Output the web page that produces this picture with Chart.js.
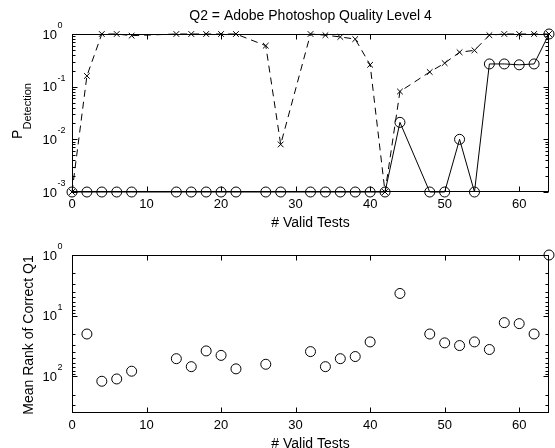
<!DOCTYPE html>
<html>
<head>
<meta charset="utf-8">
<script src="https://cdn.jsdelivr.net/npm/chart.js@4/dist/chart.umd.min.js"></script>
<style>
html,body{margin:0;padding:0;background:#fff;width:555px;height:448px;overflow:hidden;}
.wrap{position:absolute;left:0;width:555px;}
</style>
</head>
<body>
<div class="wrap" style="top:0;height:232px"><canvas id="c1"></canvas></div>
<div class="wrap" style="top:232px;height:216px"><canvas id="c2"></canvas></div>
<script>
// ---- data ----
const chartTitle = 'Q2 = Adobe Photoshop Quality Level 4';
const xAxisTitle = '# Valid Tests';
const rankAxisTitle = 'Mean Rank of Correct Q1';

const testCounts = [0, 2, 4, 6, 8, 14, 16, 18, 20, 22, 26, 28, 32, 34, 36, 38, 40, 42, 44, 48, 50, 52, 54, 56, 58, 60, 62, 64];
// dashed series with x markers
const pDetectCross = [0.001, 0.16, 1, 1, 0.93, 1, 1, 1, 1, 1, 0.6, 0.008, 1, 0.95, 0.88, 0.8, 0.26, 0.001, 0.081, 0.19, 0.28, 0.45, 0.49, 0.95, 1, 1, 1, 1];
// solid series with circle markers
const pDetectCircle = [0.001, 0.001, 0.001, 0.001, 0.001, 0.001, 0.001, 0.001, 0.001, 0.001, 0.001, 0.001, 0.001, 0.001, 0.001, 0.001, 0.001, 0.001, 0.021, 0.001, 0.001, 0.01, 0.001, 0.27, 0.27, 0.26, 0.27, 1];
// mean rank of correct Q1 (null = not shown)
const meanRank = [null, 20, 120, 110, 82, 51, 69, 38, 45, 75, 63, null, 39, 69, 51, 47, 27, null, 4.3, 20, 28, 31, 27, 36, 13, 13.5, 20, 1];

const xTickValues = [0, 10, 20, 30, 40, 50, 60];
const pTickValues = [1, 0.1, 0.01, 0.001];
const pTickExponents = ['0', '-1', '-2', '-3'];
const rankTickValues = [1, 10, 100];
const rankTickExponents = ['0', '1', '2'];
const pRange = [0.001, 1];
const rankRange = [1, 400];
const xRange = [0, 64];

// ---- drawing ----
const FONT = '"Liberation Sans", Arial, Helvetica, sans-serif';

function minorValues(min, max) {
  const out = [];
  for (let d = Math.floor(Math.log10(min)); d <= Math.ceil(Math.log10(max)); d++) {
    for (let k = 2; k <= 9; k++) {
      const v = k * Math.pow(10, d);
      if (v > min * 1.0001 && v < max * 0.9999) out.push(v);
    }
  }
  return out;
}

function framePlugin(opt) {
  return {
    id: 'frame',
    afterDatasetsDraw(chart) {
      const ctx = chart.ctx, a = chart.chartArea;
      const xs = chart.scales.x, ys = chart.scales.y;
      const L = Math.round(a.left) + 0.5, R = Math.round(a.right) - 0.5;
      const T = Math.round(a.top) + 0.5, B = Math.round(a.bottom) - 0.5;
      ctx.save();
      ctx.setLineDash([]);
      ctx.strokeStyle = '#000';
      ctx.lineWidth = 1;
      ctx.strokeRect(L, T, R - L, B - T);
      ctx.beginPath();
      // x ticks (inside, top and bottom)
      xTickValues.forEach(v => {
        const px = Math.round(xs.getPixelForValue(v)) + 0.5;
        ctx.moveTo(px, B); ctx.lineTo(px, B - 5);
        ctx.moveTo(px, T); ctx.lineTo(px, T + 5);
      });
      // y major ticks
      opt.yTicks.forEach(v => {
        const py = Math.round(ys.getPixelForValue(v)) + 0.5;
        ctx.moveTo(L, py); ctx.lineTo(L + 5, py);
        ctx.moveTo(R, py); ctx.lineTo(R - 5, py);
      });
      // y minor ticks
      minorValues(opt.yRange[0], opt.yRange[1]).forEach(v => {
        const py = Math.round(ys.getPixelForValue(v)) + 0.5;
        ctx.moveTo(L, py); ctx.lineTo(L + 3, py);
        ctx.moveTo(R, py); ctx.lineTo(R - 3, py);
      });
      ctx.stroke();

      ctx.fillStyle = '#000';
      // x tick labels
      ctx.font = '13px ' + FONT;
      ctx.textAlign = 'center';
      ctx.textBaseline = 'alphabetic';
      xTickValues.forEach(v => {
        ctx.fillText(String(v), xs.getPixelForValue(v), a.bottom + 15.5);
      });
      // y tick labels: 10 with superscript exponent
      opt.yTicks.forEach((v, i) => {
        const py = ys.getPixelForValue(v);
        ctx.font = '13px ' + FONT;
        ctx.textAlign = 'right';
        ctx.fillText('10', a.left - 15, py + 4.5);
        ctx.font = '9px ' + FONT;
        ctx.textAlign = 'left';
        ctx.fillText(opt.yExps[i], a.left - 14.5, py - 6);
      });
      // x axis title
      ctx.font = '14px ' + FONT;
      ctx.textAlign = 'center';
      ctx.fillText(xAxisTitle, (a.left + a.right) / 2, a.bottom + 34.5);
      // chart title
      if (opt.title) {
        ctx.fillText(opt.title, (a.left + a.right) / 2, 20);
      }
      // y axis title (rotated)
      ctx.save();
      ctx.translate(opt.yTitleX, opt.yTitleY);
      ctx.rotate(-Math.PI / 2);
      if (opt.yTitleSub) {
        ctx.font = '14px ' + FONT;
        const w1 = ctx.measureText(opt.yTitle).width;
        ctx.font = '11px ' + FONT;
        const w2 = ctx.measureText(opt.yTitleSub).width;
        const x0 = -(w1 + w2) / 2;
        ctx.textAlign = 'left';
        ctx.font = '14px ' + FONT;
        ctx.fillText(opt.yTitle, x0, 0);
        ctx.font = '11px ' + FONT;
        ctx.fillText(opt.yTitleSub, x0 + w1, 9);
      } else {
        ctx.font = '14px ' + FONT;
        ctx.textAlign = 'center';
        ctx.fillText(opt.yTitle, 0, 0);
      }
      ctx.restore();
      ctx.restore();
    }
  };
}

const pts = arr => testCounts.map((t, i) => ({ x: t, y: arr[i] }));

function baseOptions(yScale, xHeight, padTop) {
  return {
    responsive: true,
    maintainAspectRatio: false,
    animation: false,
    devicePixelRatio: window.devicePixelRatio || 1,
    layout: { padding: { left: 0, right: 3, top: padTop, bottom: 0 } },
    plugins: { legend: { display: false }, title: { display: false }, tooltip: { enabled: false } },
    events: [],
    scales: {
      x: {
        type: 'linear', min: xRange[0], max: xRange[1],
        grid: { display: false }, border: { display: false },
        ticks: { display: false, stepSize: 10 },
        afterFit: s => { s.height = xHeight; }
      },
      y: Object.assign({
        grid: { display: false }, border: { display: false },
        ticks: { display: false },
        afterFit: s => { s.width = 72; }
      }, yScale)
    }
  };
}

new Chart(document.getElementById('c1'), {
  type: 'line',
  data: {
    datasets: [
      {
        label: 'x markers', data: pts(pDetectCross),
        borderColor: '#000', borderWidth: 1, borderDash: [7, 5],
        pointStyle: 'crossRot', pointRadius: 4, pointBorderWidth: 1,
        pointBorderColor: '#000', pointBackgroundColor: 'rgba(0,0,0,0)',
        fill: false, tension: 0, clip: false
      },
      {
        label: 'circle markers', data: pts(pDetectCircle),
        borderColor: '#000', borderWidth: 1,
        pointStyle: 'circle', pointRadius: 5, pointBorderWidth: 1,
        pointBorderColor: '#000', pointBackgroundColor: 'rgba(0,0,0,0)',
        fill: false, tension: 0, clip: false
      }
    ]
  },
  options: baseOptions({ type: 'logarithmic', min: pRange[0], max: pRange[1] }, 40, 34),
  plugins: [framePlugin({
    yTicks: pTickValues, yExps: pTickExponents, yRange: pRange,
    title: chartTitle, yTitle: 'P', yTitleSub: 'Detection', yTitleX: 22, yTitleY: 111
  })]
});

new Chart(document.getElementById('c2'), {
  type: 'line',
  data: {
    datasets: [
      {
        label: 'mean rank', data: pts(meanRank), showLine: false,
        borderColor: '#000', borderWidth: 1,
        pointStyle: 'circle', pointRadius: 5, pointBorderWidth: 1,
        pointBorderColor: '#000', pointBackgroundColor: 'rgba(0,0,0,0)',
        fill: false, clip: false
      }
    ]
  },
  options: baseOptions({ type: 'logarithmic', min: rankRange[0], max: rankRange[1], reverse: true }, 35, 23),
  plugins: [framePlugin({
    yTicks: rankTickValues, yExps: rankTickExponents, yRange: rankRange,
    title: null, yTitle: rankAxisTitle, yTitleSub: null, yTitleX: 33, yTitleY: 103
  })]
});
</script>
</body>
</html>
